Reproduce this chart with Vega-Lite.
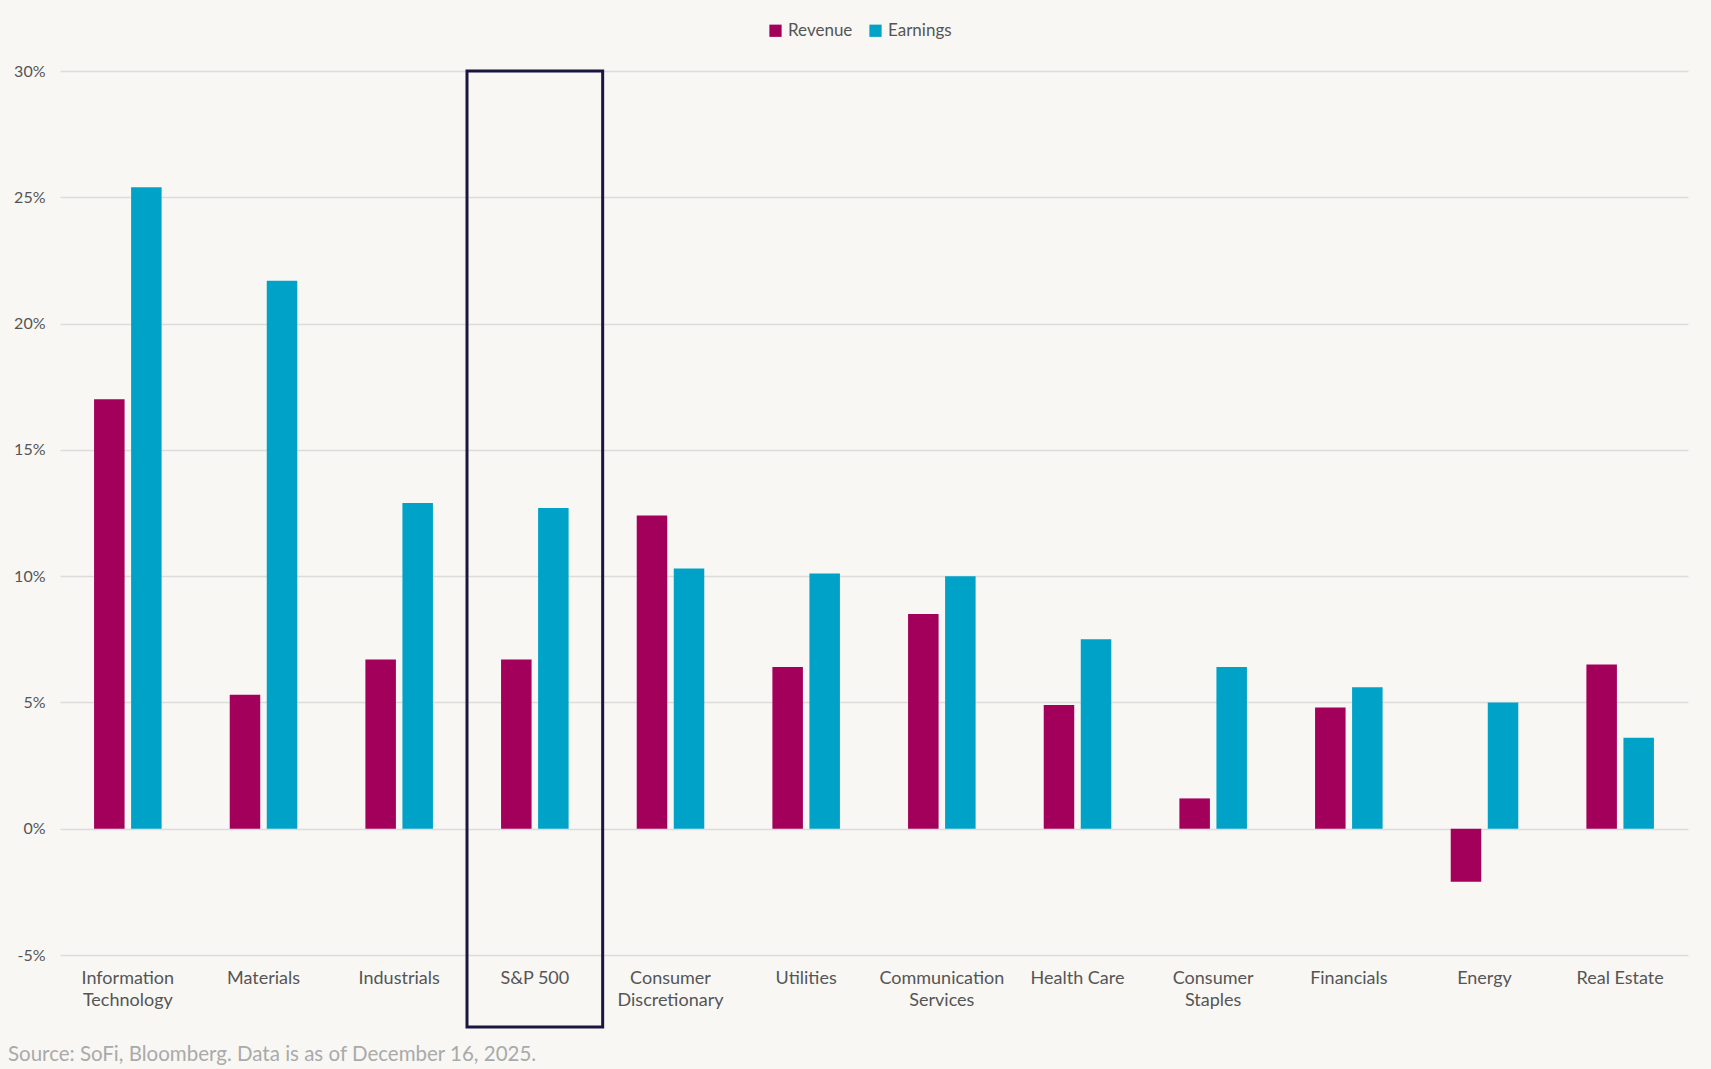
{
  "$schema": "https://vega.github.io/schema/vega-lite/v6.json",
  "width": 1628,
  "height": 884,
  "autosize": {"type": "none"},
  "padding": {"left": 60, "top": 71, "right": 23, "bottom": 114},
  "background": "#f8f7f4",
  "config": {
    "view": {"stroke": null},
    "font": "Lato"
  },
  "title": {
    "text": "Source: SoFi, Bloomberg. Data is as of December 16, 2025.",
    "orient": "bottom",
    "anchor": "start",
    "frame": "group",
    "dx": -52,
    "offset": 17,
    "font": "Lato",
    "fontSize": 20.5,
    "fontWeight": "normal",
    "color": "#aaaaaa"
  },
  "datasets": {
    "growth": [
      {"category": "Information Technology", "series": "Revenue", "value": 17.0},
      {"category": "Information Technology", "series": "Earnings", "value": 25.4},
      {"category": "Materials", "series": "Revenue", "value": 5.3},
      {"category": "Materials", "series": "Earnings", "value": 21.7},
      {"category": "Industrials", "series": "Revenue", "value": 6.7},
      {"category": "Industrials", "series": "Earnings", "value": 12.9},
      {"category": "S&P 500", "series": "Revenue", "value": 6.7},
      {"category": "S&P 500", "series": "Earnings", "value": 12.7},
      {"category": "Consumer Discretionary", "series": "Revenue", "value": 12.4},
      {"category": "Consumer Discretionary", "series": "Earnings", "value": 10.3},
      {"category": "Utilities", "series": "Revenue", "value": 6.4},
      {"category": "Utilities", "series": "Earnings", "value": 10.1},
      {"category": "Communication Services", "series": "Revenue", "value": 8.5},
      {"category": "Communication Services", "series": "Earnings", "value": 10.0},
      {"category": "Health Care", "series": "Revenue", "value": 4.9},
      {"category": "Health Care", "series": "Earnings", "value": 7.5},
      {"category": "Consumer Staples", "series": "Revenue", "value": 1.2},
      {"category": "Consumer Staples", "series": "Earnings", "value": 6.4},
      {"category": "Financials", "series": "Revenue", "value": 4.8},
      {"category": "Financials", "series": "Earnings", "value": 5.6},
      {"category": "Energy", "series": "Revenue", "value": -2.1},
      {"category": "Energy", "series": "Earnings", "value": 5.0},
      {"category": "Real Estate", "series": "Revenue", "value": 6.5},
      {"category": "Real Estate", "series": "Earnings", "value": 3.6}
    ],
    "highlight": [
      {"category": "S&P 500", "top": 30, "bottom": -7.85}
    ]
  },
  "layer": [
    {
      "data": {"name": "growth"},
      "mark": {"type": "bar"},
      "encoding": {
        "x": {
          "field": "category",
          "type": "nominal",
          "sort": null,
          "scale": {
            "domain": ["Information Technology", "Materials", "Industrials", "S&P 500", "Consumer Discretionary", "Utilities", "Communication Services", "Health Care", "Consumer Staples", "Financials", "Energy", "Real Estate"],
            "paddingInner": 0,
            "paddingOuter": 0
          },
          "axis": {
            "title": null,
            "labelAngle": 0,
            "domain": false,
            "ticks": false,
            "grid": false,
            "labelFont": "Lato",
            "labelFontSize": 18,
            "labelColor": "#555555",
            "labelPadding": 14,
            "labelLineHeight": 22,
            "labelBaseline": "top",
            "labelExpr": "indexof(['Health Care','S&P 500','Real Estate'], datum.value) >= 0 ? datum.value : split(datum.value, ' ')"
          }
        },
        "xOffset": {
          "field": "series",
          "type": "nominal",
          "sort": ["Revenue", "Earnings"],
          "scale": {"domain": ["Revenue", "Earnings"], "paddingInner": 0.176, "paddingOuter": 0.92}
        },
        "y": {
          "field": "value",
          "type": "quantitative",
          "scale": {"domain": [-5, 30], "nice": false},
          "axis": {
            "title": null,
            "values": [-5, 0, 5, 10, 15, 20, 25, 30],
            "labelExpr": "datum.value + '%'",
            "domain": false,
            "ticks": false,
            "grid": true,
            "gridColor": "#dcdcdc",
            "gridWidth": 1.5,
            "labelFont": "Lato",
            "labelFontSize": 16,
            "labelColor": "#555555",
            "labelPadding": 15
          }
        },
        "color": {
          "field": "series",
          "type": "nominal",
          "sort": ["Revenue", "Earnings"],
          "scale": {"domain": ["Revenue", "Earnings"], "range": ["#a3005c", "#00a3c7"]},
          "legend": {
            "title": null,
            "orient": "none",
            "legendX": 707,
            "legendY": -49,
            "direction": "horizontal",
            "symbolType": "square",
            "symbolSize": 150,
            "symbolStrokeWidth": 0,
            "labelFont": "Lato",
            "labelFontSize": 17,
            "labelColor": "#555555",
            "columnPadding": 14,
            "labelOffset": 4
          }
        }
      }
    },
    {
      "data": {"name": "highlight"},
      "mark": {"type": "rect", "fill": null, "stroke": "#1b1640", "strokeWidth": 3},
      "encoding": {
        "x": {"field": "category", "type": "nominal"},
        "y": {"field": "top", "type": "quantitative"},
        "y2": {"field": "bottom"}
      }
    }
  ]
}
